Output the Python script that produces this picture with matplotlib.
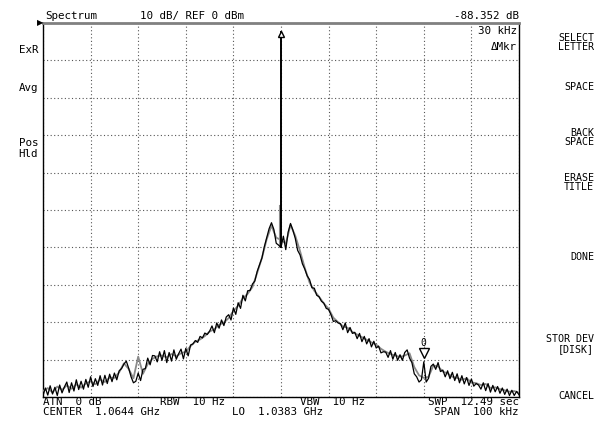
import numpy as np
import matplotlib
matplotlib.use("Agg")
import matplotlib.pyplot as plt

# ---- data (offset from center in kHz, level in dBm) ----
black_db = [
    -99.6, -97.6, -99.5, -97.0, -99.2, -97.4, -99.6, -96.8, -98.9, -97.3,
    -96.0, -98.8, -96.2, -98.4, -95.4, -98.0, -95.8, -97.9, -95.3, -97.4,
    -94.6, -97.2, -95.1, -96.9, -94.3, -96.8, -94.2, -96.4, -93.9, -95.9,
    -93.6, -95.4, -93.0, -92.4, -91.2, -90.4, -92.3, -94.6, -96.2, -95.8,
    -93.6, -95.6, -92.6, -92.4, -89.6, -91.4, -88.9, -89.0, -90.6, -87.9,
    -90.2, -87.6, -90.8, -88.1, -90.4, -87.4, -89.9, -88.4, -87.2, -89.8,
    -87.0, -89.0, -86.1, -85.8, -84.9, -85.4, -83.8, -84.2, -82.9, -83.3,
    -82.4, -81.0, -82.8, -80.2, -81.6, -79.4, -80.9, -78.6, -78.0, -79.4,
    -76.2, -77.9, -74.8, -76.3, -72.8, -74.3, -71.6, -71.5, -69.8, -69.0,
    -66.4, -64.6, -62.8, -59.8, -57.4, -55.0, -53.4, -55.2, -58.9, -59.4,
    -60.0,
    -57.0, -60.6, -55.9, -53.6, -55.4, -57.6, -60.8, -62.0, -64.4, -65.8,
    -67.6, -68.6, -70.8, -70.9, -72.8, -73.2, -74.4, -74.9, -76.3, -76.6,
    -78.0, -79.8, -79.6, -80.2, -80.4, -82.0, -80.2, -82.8, -81.4, -83.0,
    -82.7, -84.4, -83.0, -85.2, -83.8, -85.8, -84.4, -86.6, -85.1, -86.9,
    -86.4, -88.2, -87.9, -88.0, -89.4, -87.6, -89.9, -88.1, -90.2, -88.7,
    -90.2, -88.1, -87.4, -89.6, -90.8, -93.8, -94.6, -96.0, -95.4, -90.6,
    -96.0, -95.0, -91.8, -91.2, -92.6, -90.8, -93.2, -92.8, -94.6, -93.0,
    -95.1, -93.4, -95.6, -93.8, -96.2, -94.3, -96.5, -94.8, -96.9, -95.2,
    -97.1, -96.4, -96.8, -97.9, -96.2, -98.3, -96.4, -98.7, -96.9, -98.6,
    -97.2, -99.0, -97.6, -99.3, -97.9, -99.6, -98.2, -99.6, -98.5, -99.4,
]
gray_db = [
    -98.4, -97.6, -98.8, -97.2, -98.1, -96.9, -97.8, -96.6, -97.5, -96.4,
    -95.8, -96.6, -95.3, -96.0, -94.8, -94.9, -93.4, -91.0, -92.5, -95.0,
    -89.2, -93.8, -91.2, -89.8, -89.1, -88.9, -89.4, -88.5, -89.1, -88.3,
    -87.9, -86.4, -85.2, -84.6, -83.7, -82.5, -81.9, -80.7, -80.1, -78.9,
    -77.0, -75.6, -73.6, -72.4, -70.6, -66.8, -62.8, -57.8, -54.2, -57.4,
    -58.0,
    -59.0, -54.0, -56.9, -61.0, -65.5, -69.4, -71.6, -73.2, -75.0, -76.4,
    -78.8, -80.0, -81.1, -81.5, -82.6, -83.3, -84.0, -84.7, -85.4, -86.0,
    -87.1, -87.9, -88.5, -88.9, -89.3, -88.9, -88.3, -92.0, -94.2, -94.9,
    -94.6, -91.6, -91.8, -93.2, -93.7, -94.6, -94.9, -95.4, -95.0, -96.1,
    -96.3, -96.8, -96.5, -97.6, -97.4, -97.9, -98.2, -98.6, -98.4, -98.9,
]
carrier_khz = 0.0
carrier_dbm = -2.3
carrier_base_dbm = -60.0
gray_spike_dbm = (-60.0, -49.0)
span_khz = 100
ref_dbm = 0
db_per_div = 10
delta_marker = (30.0, -88.2)

header_left = "Spectrum"
header_mid = "10 dB/ REF 0 dBm"
header_right = "-88.352 dB"
mkr_lines = ["30 kHz", "\u0394Mkr"]
left_labels = [("ExR", 50), ("Avg", 88), ("Pos", 143), ("Hld", 154)]
softkeys = [("SELECT", 38), ("LETTER", 47), ("SPACE", 87), ("BACK", 133),
            ("SPACE", 142), ("ERASE", 178), ("TITLE", 187), ("DONE", 257),
            ("STOR DEV", 339), ("[DISK]", 349), ("CANCEL", 396)]

f_black = np.linspace(-span_khz / 2, span_khz / 2, len(black_db))
f_gray = np.linspace(-span_khz / 2, span_khz / 2, len(gray_db))

W, H = 607, 421
fig = plt.figure(figsize=(W / 100, H / 100), dpi=100)
fig.patch.set_facecolor("white")
ax = fig.add_axes([43 / W, 1 - 397 / H, 476 / W, 374 / H])
ax.set_xlim(-span_khz / 2, span_khz / 2)
ax.set_ylim(ref_dbm - 10 * db_per_div, ref_dbm)
ax.set_xticks(np.arange(-50, 51, 10))
ax.set_yticks(np.arange(-100, 1, 10))
ax.tick_params(length=0, labelbottom=False, labelleft=False)
ax.grid(True, color="#555555", linestyle=(0, (1, 2.2)), linewidth=0.8)
for s in ["left", "right", "bottom"]:
    ax.spines[s].set_color("black")
    ax.spines[s].set_linewidth(1.0)
ax.spines["top"].set_color("#808080")
ax.spines["top"].set_linewidth(2.0)

ax.plot(f_gray, gray_db, color="#8a8a8a", linewidth=1.3, zorder=3)
ax.plot([carrier_khz - 0.25, carrier_khz - 0.25], gray_spike_dbm,
        color="#8a8a8a", linewidth=1.5, zorder=3)
ax.plot(f_black, black_db, color="black", linewidth=0.9, zorder=4)
ax.plot([carrier_khz, carrier_khz], [carrier_base_dbm, carrier_dbm],
        color="black", linewidth=1.4, zorder=4)

ax.plot([carrier_khz], [carrier_dbm - 0.6], marker="^", markersize=5,
        markerfacecolor="white", markeredgecolor="black", markeredgewidth=1.0,
        linestyle="none", zorder=6, clip_on=False)
ax.plot([delta_marker[0]], [delta_marker[1]], marker="v", markersize=7,
        markerfacecolor="white", markeredgecolor="black", markeredgewidth=1.0,
        linestyle="none", zorder=6)
ax.text(delta_marker[0], delta_marker[1] + 2.6, "0", ha="center", va="center",
        fontsize=7, family="DejaVu Sans Mono", zorder=6)

mono = "DejaVu Sans Mono"
fs = 7.8


def ftext(x, y, s, ha="left", size=fs, family=mono):
    fig.text(x / W, 1 - y / H, s, ha=ha, va="center", fontsize=size, family=family)


ftext(40, 23, "\u25B6", ha="center", size=6, family="DejaVu Sans")
ftext(45, 16, header_left)
ftext(140, 16, header_mid)
ftext(519, 16, header_right, ha="right")
ftext(517, 31, mkr_lines[0], ha="right")
ftext(517, 47, mkr_lines[1], ha="right")
for s, y in left_labels:
    ftext(38, y, s, ha="right")
for s, y in softkeys:
    ftext(594, y, s, ha="right", size=7.2)

ftext(43, 402, "ATN  0 dB")
ftext(160, 402, "RBW  10 Hz")
ftext(300, 402, "VBW  10 Hz")
ftext(519, 402, "SWP  12.49 sec", ha="right")
ftext(43, 412, "CENTER  1.0644 GHz")
ftext(232, 412, "LO  1.0383 GHz")
ftext(519, 412, "SPAN  100 kHz", ha="right")

fig.savefig("out.png", dpi=100, facecolor="white")
